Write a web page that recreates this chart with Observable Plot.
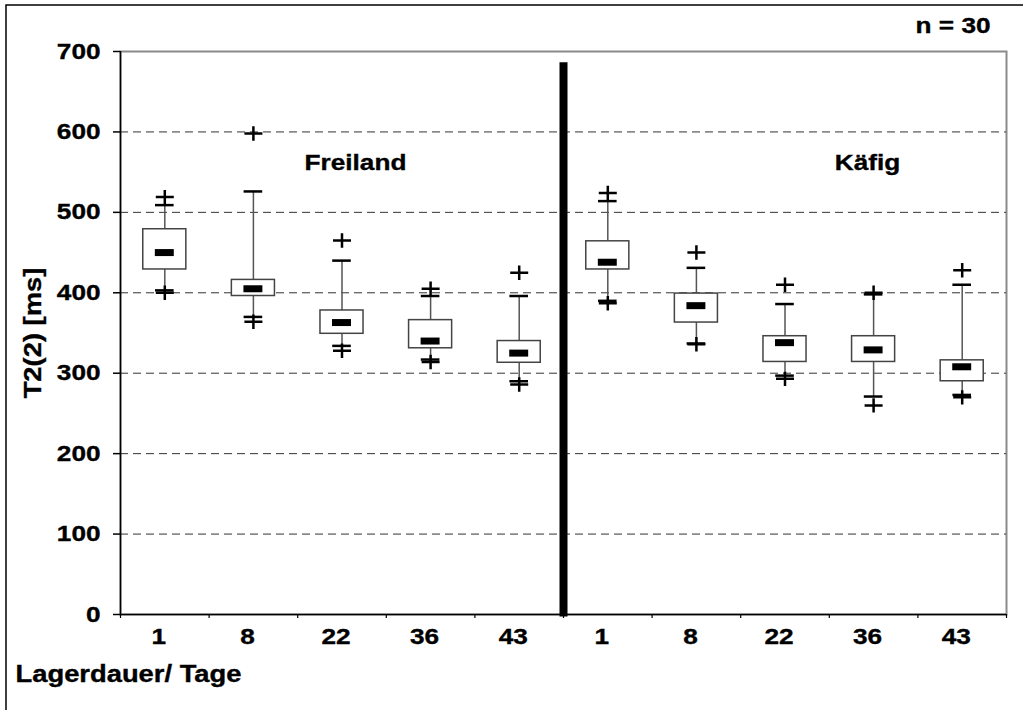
<!DOCTYPE html>
<html><head><meta charset="utf-8">
<script src="https://cdn.jsdelivr.net/npm/d3@7"></script>
<script src="https://cdn.jsdelivr.net/npm/@observablehq/plot@0.6"></script>
<style>html,body{margin:0;padding:0;background:#fff;overflow:hidden}</style>
</head><body><div id="chart"></div>
<script>
// ---- data ----
const groups = ["Freiland","Freiland","Freiland","Freiland","Freiland","Käfig","Käfig","Käfig","Käfig","Käfig"];
const days = [1, 8, 22, 36, 43, 1, 8, 22, 36, 43];
const whiskerLow  = [403, 370, 334, 317, 290, 390, 337, 297, 271, 273];
const q1          = [429, 396, 349, 331, 313, 429, 363, 314, 314, 290];
const median      = [450, 405, 363, 340, 325, 438, 384, 338, 329, 308];
const q3          = [479, 416, 378, 366, 340, 464, 399, 346, 346, 316];
const whiskerHigh = [509, 526, 440, 396, 396, 514, 431, 386, 398, 410];
const outlierHigh = [519, 598, 465, 405, 425, 524, 450, 410, 400, 428];
const outlierLow  = [400, 364, 328, 314, 286, 387, 336, 293, 260, 270];
const yTicks = [0, 100, 200, 300, 400, 500, 600, 700];
const gridValues = [100, 200, 300, 400, 500, 600];
const groupNames = ["Freiland", "Käfig"];
const sampleNote = "n = 30";
const xTitle = "Lagerdauer/ Tage";
const yTitle = "T2(2) [ms]";

// ---- derived tables ----
const boxes = days.map((d, i) => ({
  pos: i + 1, day: d, group: groups[i],
  lo: whiskerLow[i], q1: q1[i], med: median[i], q3: q3[i], hi: whiskerHigh[i]
}));
const outliers = boxes.flatMap((b, i) => [
  {pos: b.pos, v: outlierHigh[i]}, {pos: b.pos, v: outlierLow[i]}
]);
const n = days.length;
const nFirst = groups.filter(g => g === groups[0]).length;
const boundaries = d3.range(0, n + 1).map(k => k + 0.5);
const positions = boxes.map(b => b.pos);

const halfBox = 0.243, halfMed = 0.107, halfCap = 0.105;

const plusSymbol = {
  draw(ctx, size) {
    const r = Math.sqrt(size / Math.PI);
    ctx.moveTo(-r, 0); ctx.lineTo(r, 0);
    ctx.moveTo(0, -r * 0.8); ctx.lineTo(0, r * 0.8);
  }
};

const FONT = "Liberation Sans, Arial, sans-serif";

const chart = Plot.plot({
  width: 1023,
  height: 710,
  marginLeft: 120,
  marginRight: 17,
  marginTop: 51,
  marginBottom: 96,
  style: {fontFamily: FONT, fontWeight: "bold", fontSize: "22px", color: "#000", background: "#fff"},
  x: {type: "linear", domain: [0.5, n + 0.5], label: null},
  y: {domain: [0, 700], label: null},
  marks: [
    Plot.frame({stroke: "#8a8a8a", strokeWidth: 2}),
    Plot.ruleY(gridValues, {stroke: "#333", strokeWidth: 1, strokeDasharray: "8,5"}),
    // whiskers
    Plot.ruleX(boxes, {x: "pos", y1: "q3", y2: "hi", stroke: "#555", strokeWidth: 1.5}),
    Plot.ruleX(boxes, {x: "pos", y1: "lo", y2: "q1", stroke: "#555", strokeWidth: 1.5}),
    // boxes
    Plot.rect(boxes, {x1: d => d.pos - halfBox, x2: d => d.pos + halfBox, y1: "q1", y2: "q3",
      fill: "#fff", stroke: "#444", strokeWidth: 1.5}),
    // medians
    Plot.ruleY(boxes, {y: "med", x1: d => d.pos - halfMed, x2: d => d.pos + halfMed, stroke: "#000", strokeWidth: 7}),
    // whisker caps
    Plot.ruleY(boxes, {y: "hi", x1: d => d.pos - halfCap, x2: d => d.pos + halfCap, stroke: "#000", strokeWidth: 2.5}),
    Plot.ruleY(boxes, {y: "lo", x1: d => d.pos - halfCap, x2: d => d.pos + halfCap, stroke: "#000", strokeWidth: 2.5}),
    // outliers
    Plot.dot(outliers, {x: "pos", y: "v", symbol: plusSymbol, r: 9, fill: "none", stroke: "#000", strokeWidth: 2.5}),
    // group separator
    Plot.ruleX([nFirst + 0.5], {y1: -3, y2: 686, stroke: "#000", strokeWidth: 8}),
    // axis lines
    Plot.ruleX([0.5], {stroke: "#000", strokeWidth: 1.5}),
    Plot.ruleY([0], {stroke: "#000", strokeWidth: 1.5}),
    // axes
    Plot.axisY({ticks: yTicks, tickSize: 7, tickPadding: 13, tickFormat: d => String(d), stroke: "#000", strokeWidth: 1.5, label: null}),
    Plot.axisX({ticks: boundaries, tickSize: 4, tickFormat: () => "", stroke: "#000", strokeWidth: 1.2, label: null}),
    Plot.axisX({ticks: positions, tickSize: 0, tickPadding: 14, dx: -6, tickFormat: p => String(days[p - 1]), label: null}),
    // annotations
    Plot.text([groupNames[0]], {frameAnchor: "top-left", dx: 235, dy: 111, textAnchor: "middle", lineAnchor: "middle"}),
    Plot.text([groupNames[1]], {frameAnchor: "top-left", dx: 747, dy: 111, textAnchor: "middle", lineAnchor: "middle"}),
    Plot.text([sampleNote], {frameAnchor: "top-right", dx: -16, dy: -26, textAnchor: "end", lineAnchor: "middle"}),
    Plot.text([yTitle], {frameAnchor: "left", dx: -87, rotate: -90, textAnchor: "middle", lineAnchor: "middle", fontSize: 23}),
    Plot.text([xTitle], {frameAnchor: "bottom-left", dx: -105, dy: 60, textAnchor: "start", lineAnchor: "middle", fontSize: 23})
  ]
});

// horizontal stretch and slight weight boost of the bold lettering (the reference's type is wider/heavier than Arial)
d3.select(chart).selectAll("text").each(function() {
  const t = this.getAttribute("transform");
  if (t) this.setAttribute("transform", t + " scale(1.19,1)");
  else {
    const x = +(this.getAttribute("x") || 0), y = +(this.getAttribute("y") || 0);
    this.setAttribute("transform", `translate(${x},${y}) scale(1.19,1) translate(${-x},${-y})`);
  }
  this.setAttribute("stroke", "#000");
  this.setAttribute("stroke-width", "0.35");
});
// outer frame of the figure (only top and left edges visible in the reference)
d3.select(chart).append("rect")
  .attr("x", 6).attr("y", 5).attr("width", 1040).attr("height", 720)
  .attr("fill", "none").attr("stroke", "#000").attr("stroke-width", 1.5);

document.getElementById("chart").appendChild(chart);
</script>
</body></html>
